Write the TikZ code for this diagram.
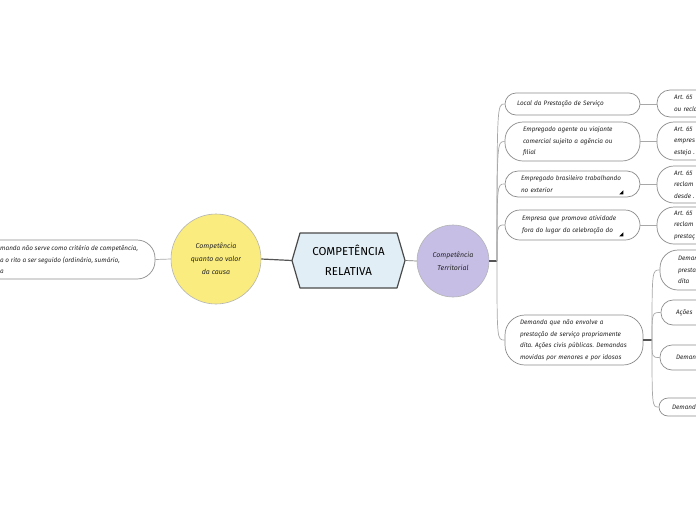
\documentclass[tikz,border=0pt]{standalone}
\usepackage{fontspec}
\setmainfont{Fira Sans}
\usetikzlibrary{calc}
\definecolor{boxc}{HTML}{8C8C8C}
\definecolor{linec}{HTML}{A8A8A8}
\definecolor{darkc}{HTML}{555555}
\definecolor{yel}{HTML}{FAEC7E}
\definecolor{pur}{HTML}{C6BEE5}
\definecolor{hexfill}{HTML}{E2EEF5}
\definecolor{hexline}{HTML}{4A4A4A}
\definecolor{circc}{HTML}{B4B4B4}
\begin{document}
\frenchspacing
\begin{tikzpicture}[x=1pt,y=-1pt]
\tikzset{
  txt/.style={font=\itshape\fontsize{6.4}{11.5}\selectfont, text=black!85},
  box/.style={draw=boxc, line width=0.7pt, fill=white, rectangle, txt, align=left},
  circ/.style={circle, draw=circc, line width=0.6pt, inner sep=0pt, align=center,
               font=\itshape\fontsize{7}{13}\selectfont, text=black!85},
  thinln/.style={draw=linec, line width=0.7pt},
  thickln/.style={draw=darkc, line width=1.2pt},
  foldmark/.style={fill=black}
}
\useasboundingbox (0,0) rectangle (696,520);
\fill[white] (0,0) rectangle (696,520);
\clip (0,0) rectangle (696,520);

% central hexagon
\filldraw[fill=hexfill, draw=hexline, line width=1.2pt, line join=round]
  (292,260.5) -- (300,233) -- (397,233) -- (405,260.5) -- (397,288) -- (300,288) -- cycle;
\node[font=\fontsize{11.5}{20}\selectfont, align=center, minimum width=113, minimum height=55, inner sep=0pt] (hex) at (348.5,260.5) {COMPETÊNCIA\\RELATIVA};

% circles
\node[circ, fill=yel, minimum size=90] (yc) at (216,259) {Competência\\quanto ao valor\\da causa};
\node[circ, fill=pur, minimum size=72] (pc) at (453,261) {Competência\\Territorial};

% left box
\node[box, minimum width=215, minimum height=39, rounded corners=18] (lb) at (47.5,259.5) {};
\node[txt, align=left, anchor=west, inner sep=0pt] (lt) at (0,259.5) {manda não serve como critério de competência,\\a o rito a ser seguido (ordinário, sumário,\\a};

% right first-level boxes
\node[box, minimum width=135, minimum height=22, rounded corners=11, text width=111] (n1) at (572.5,104) {\mbox{Local da Prestação de Serviço}};
\node[box, minimum width=135, minimum height=39, rounded corners=18, text width=99] (n2) at (572.5,141.5) {\mbox{Empregado agente ou viajante}\\\mbox{comercial sujeito a agência ou}\\filial};
\node[box, minimum width=135, minimum height=26, rounded corners=13, text width=103] (n3) at (572.5,184) {\mbox{Empregado brasileiro trabalhando}\\no exterior};
\node[box, minimum width=135, minimum height=30, rounded corners=15, text width=101] (n4) at (572.5,225) {\mbox{Empresa que promova atividade}\\\mbox{fora do lugar da celebração do}};
\node[box, minimum width=138, minimum height=50, rounded corners=20, text width=108] (n5) at (574,340) {\mbox{Demanda que não envolve a}\\\mbox{prestação de serviço propriamente}\\\mbox{dita. Ações civis públicas. Demandas}\\\mbox{movidas por menores e por idosos}};

\fill[foldmark] ([shift={(-21,-3)}]n3.south east) -- ++(4,0) -- ++(0,-4) -- cycle;
\fill[foldmark] ([shift={(-21,-4)}]n4.south east) -- ++(4,0) -- ++(0,-4) -- cycle;

% second-level boxes (cut by the right edge)
\node[box, minimum width=83, minimum height=27, rounded corners=13, text width=49] (c1) at (698.5,103.5) {Art. 65\\ou recla};
\node[box, minimum width=83, minimum height=38, rounded corners=17, text width=49] (c2) at (698.5,141) {Art. 65\\empres\\esteja .};
\node[box, minimum width=83, minimum height=37, rounded corners=17, text width=49] (c3) at (698.5,184.5) {Art. 65\\reclam\\desde .};
\node[box, minimum width=83, minimum height=37, rounded corners=17, text width=49] (c4) at (698.5,225.5) {Art. 65\\reclam\\prestaç};
\node[box, minimum width=80, minimum height=40, rounded corners=18, text width=44] (c5) at (700,270) {Deman\\presta\\dita};
\node[box, minimum width=79, minimum height=25, rounded corners=12, text width=49] (c6) at (700.5,312.5) {Ações};
\node[box, minimum width=80, minimum height=25, rounded corners=12, text width=48] (c7) at (700,357.5) {Deman};
\node[box, minimum width=81, minimum height=18, rounded corners=9, text width=55] (c8) at (699.5,407) {Demanda};

% connectors
\coordinate (tr) at (497,261);
\coordinate (tr2) at (652,340);
\draw[thinln] (lb.east) -- (yc.west);
\draw[thickln] (yc.east) -- (hex.west);
\draw[thinln, draw=darkc!80] (hex.east) -- (pc.west);
\draw[thickln] (pc.east) -- (tr);
\foreach \n in {n1,n2,n3,n4,n5}
  \draw[thinln] (tr) .. controls (tr |- \n.west) and (tr |- \n.west) .. (\n.west);
\draw[thinln] (n1.east) -- (n1.east -| c1.west);
\draw[thinln] (n2.east) -- (n2.east -| c2.west);
\draw[thinln] (n3.east) -- (n3.east -| c3.west);
\draw[thinln] (n4.east) -- (n4.east -| c4.west);
\draw[thickln] (n5.east) -- (tr2);
\foreach \n in {c5,c6,c7,c8}
  \draw[thinln] (tr2) .. controls (tr2 |- \n.west) and (tr2 |- \n.west) .. (\n.west);
\end{tikzpicture}
\end{document}
